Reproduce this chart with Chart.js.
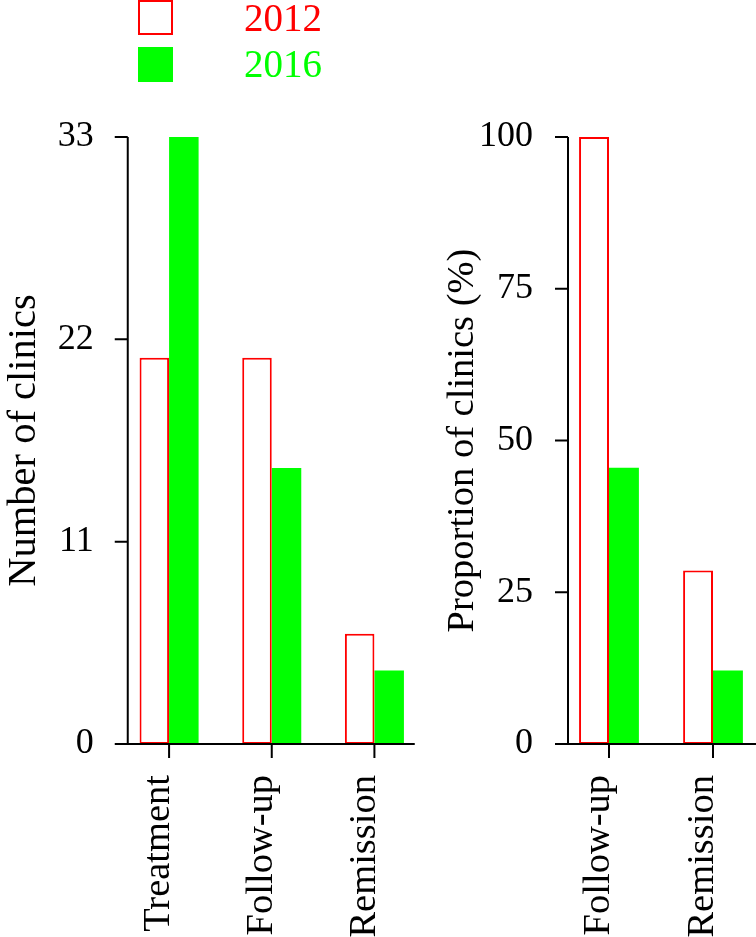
<!DOCTYPE html>
<html>
<head>
<meta charset="utf-8">
<script src="https://cdn.jsdelivr.net/npm/chart.js@4"></script>
<style>
  body { margin: 0; background: #fff; overflow: hidden; width: 756px; height: 937px; position: relative; }
  canvas { position: absolute; top: 0; }
  #left { left: 0; }
  #right { left: 440px; }
  .key { position: absolute; left: 138px; width: 35px; height: 35px; box-sizing: border-box; }
  .keyText { position: absolute; left: 244px; font: 39px "Liberation Serif", serif; line-height: 39px; }
</style>
</head>
<body>
<canvas id="left" width="440" height="937"></canvas>
<canvas id="right" width="340" height="937"></canvas>
<div id="legend"></div>

<script>
// data
const seriesNames = ["2012", "2016"];
const countCategories = ["Treatment", "Follow-up", "Remission"];
const count2012 = [21, 21, 6];
const count2016 = [33, 15, 4];
const countTicks = [0, 11, 22, 33];

const shareCategories = ["Follow-up", "Remission"];
const share2012 = [100, 28.6];
const share2016 = [45.5, 12.1];
const shareTicks = [0, 25, 50, 75, 100];

const RED = "#ff0000";
const GREEN = "#00ff00";
const SERIF = "'Liberation Serif', 'Times New Roman', serif";

/**
 * R-style axes: detached y line, tick marks, long x line
 */
const rAxes = {
    id: "rAxes",
    afterDatasetsDraw(chart, args, opts) {
        const { ctx, chartArea, scales: { x, y } } = chart;
        const yx = chartArea.left + opts.yShift;
        const base = y.getPixelForValue(0);
        ctx.save();
        ctx.strokeStyle = "#000";
        ctx.lineWidth = 2;
        ctx.beginPath();
        ctx.moveTo(yx, y.getPixelForValue(y.max));
        ctx.lineTo(yx, base);
        y.ticks.forEach(t => {
            const py = y.getPixelForValue(t.value);
            ctx.moveTo(yx - 13, py);
            ctx.lineTo(yx, py);
        });
        ctx.moveTo(chartArea.left + opts.xFrom, base);
        ctx.lineTo(chartArea.right + opts.xTo, base);
        x.ticks.forEach((t, i) => {
            const px = x.getPixelForTick(i);
            ctx.moveTo(px, base);
            ctx.lineTo(px, base + 14);
        });
        ctx.stroke();
        ctx.restore();
    }
};

function barChart(id, labels, a, b, tickValues, title, titleSize, areaLeft, areaRight, axisOpts) {
    const canvas = document.getElementById(id);
    return new Chart(canvas, {
        type: "bar",
        data: {
            labels: labels,
            datasets: [
                { label: seriesNames[0], data: a, backgroundColor: "#fff", borderColor: RED, borderWidth: 2, borderSkipped: false },
                { label: seriesNames[1], data: b, backgroundColor: GREEN, borderWidth: 0 }
            ]
        },
        options: {
            responsive: false,
            animation: false,
            events: [],
            layout: { padding: { top: 137, bottom: 0, left: 0, right: canvas.width - areaRight } },
            datasets: { bar: { categoryPercentage: 0.575, barPercentage: 1 } },
            plugins: { legend: { display: false }, tooltip: { enabled: false }, rAxes: axisOpts },
            scales: {
                x: {
                    grid: { display: false, drawTicks: false },
                    border: { display: false },
                    ticks: { color: "#000", font: { family: SERIF, size: 38.5 }, minRotation: 90, maxRotation: 90, padding: 31, labelOffset: -10, autoSkip: false },
                    afterFit(s) { s.height = 937 - 744; s.paddingLeft = 0; s.paddingRight = 0; }
                },
                y: {
                    min: tickValues[0],
                    max: tickValues[tickValues.length - 1],
                    grid: { display: false, drawTicks: false },
                    border: { display: false },
                    ticks: { color: "#000", font: { family: SERIF, size: 36 }, padding: 24 },
                    afterBuildTicks(s) { s.ticks = tickValues.map(v => ({ value: v })); },
                    title: { display: true, text: title, color: "#000", font: { family: SERIF, size: titleSize }, padding: 0 },
                    afterFit(s) { s.width = areaLeft; s.paddingTop = 0; s.paddingBottom = 0; }
                }
            }
        },
        plugins: [rAxes]
    });
}

barChart("left", countCategories, count2012, count2016, countTicks, "Number of clinics", 40.5,
    117.75, 425.75, { yShift: 10, xFrom: -3, xTo: -11 });
barChart("right", shareCategories, share2012, share2016, shareTicks, "Proportion of clinics (%)", 38.5,
    117, 325, { yShift: 11, xFrom: -2, xTo: 20 });

// legend
const legend = document.getElementById("legend");
const keyStyles = [
    { top: 0, box: "border:2px solid " + RED + ";background:#fff", color: RED, textTop: -2 },
    { top: 47, box: "background:" + GREEN, color: GREEN, textTop: 44 }
];
seriesNames.forEach((name, i) => {
    const k = keyStyles[i];
    legend.insertAdjacentHTML("beforeend",
        `<div class="key" style="top:${k.top}px;${k.box}"></div>` +
        `<div class="keyText" style="top:${k.textTop}px;color:${k.color}">${name}</div>`);
});
</script>
</body>
</html>
